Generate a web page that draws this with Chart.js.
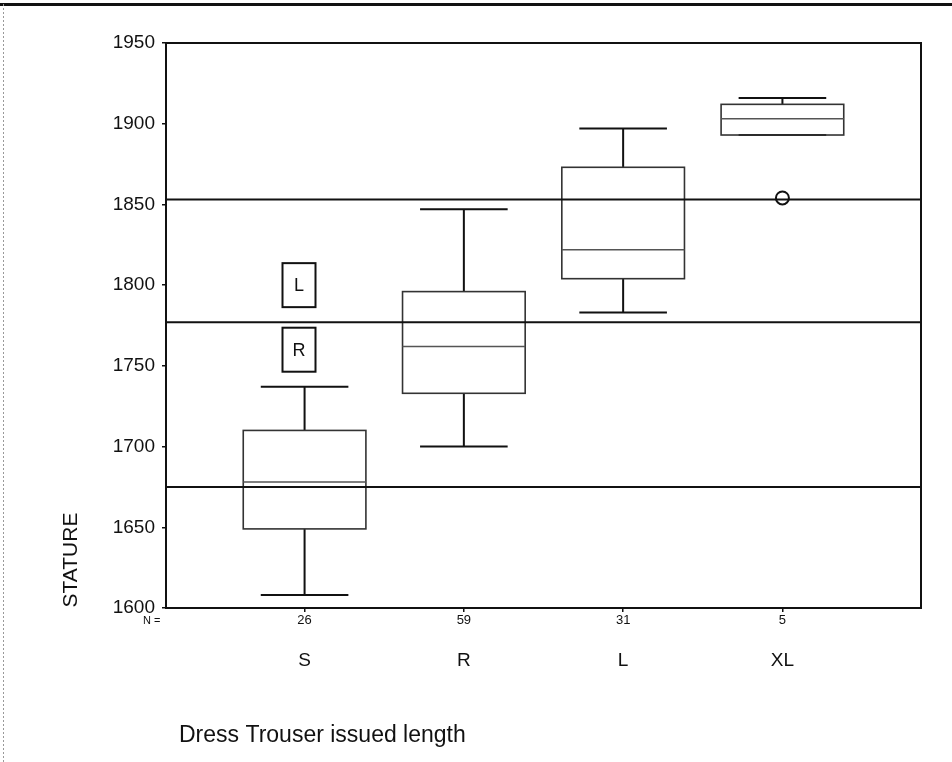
<!DOCTYPE html>
<html>
<head>
<meta charset="utf-8">
<script src="https://cdn.jsdelivr.net/npm/chart.js@4/dist/chart.umd.min.js"></script>
<style>
  html, body { margin: 0; padding: 0; background: #fff; }
  canvas { display: block; }
</style>
</head>
<body>
<canvas id="c" width="952" height="762"></canvas>
<script>
// ---- Data ----
const categories   = ['S', 'R', 'L', 'XL'];
const categoryPos  = [1, 2, 3, 4];
const nCounts      = [26, 59, 31, 5];
const whiskerLow   = [1608, 1700, 1783, 1893];
const q1           = [1649, 1733, 1804, 1893];
const median       = [1678, 1762, 1822, 1903];
const q3           = [1710, 1796, 1873, 1912];
const whiskerHigh  = [1737, 1847, 1897, 1916];
const outlierCat   = [4];
const outlierValue = [1854];
const refLines     = [1853, 1777, 1675];
const zoneLabels   = ['L', 'R'];
const zoneLabelY   = [1800, 1760];
const zoneLabelX   = 0.965;
const yTicks       = [1600, 1650, 1700, 1750, 1800, 1850, 1900, 1950];
const xMin = 0.13, xMax = 4.87;

const FONT = '"Liberation Sans", Arial, Helvetica, sans-serif';
const BOX_W = 0.77;   // box width in category units
const CAP_W = 0.55;   // whisker cap width in category units

const refDatasets = refLines.map(v => ({
  type: 'line',
  data: [{x: xMin, y: v}, {x: xMax, y: v}],
  borderColor: '#111',
  borderWidth: 2,
  pointRadius: 0,
  fill: false,
  order: 2
}));

const outlierDataset = {
  type: 'scatter',
  data: outlierCat.map((c, i) => ({x: c, y: outlierValue[i]})),
  pointStyle: 'circle',
  pointRadius: 6.5,
  backgroundColor: 'rgba(255,255,255,0)',
  borderColor: '#111',
  borderWidth: 2,
  order: 1
};

const boxPlugin = {
  id: 'boxes',
  beforeDraw(chart) {
    const ctx = chart.ctx;
    ctx.save();
    ctx.fillStyle = '#fff';
    ctx.fillRect(0, 0, chart.width, chart.height);
    // outer frame (top thick line, left dotted line)
    ctx.strokeStyle = '#111';
    ctx.lineWidth = 3;
    ctx.beginPath(); ctx.moveTo(0, 4.5); ctx.lineTo(chart.width, 4.5); ctx.stroke();
    ctx.strokeStyle = '#999';
    ctx.lineWidth = 1;
    ctx.setLineDash([2, 2]);
    ctx.beginPath(); ctx.moveTo(3.5, 4); ctx.lineTo(3.5, chart.height); ctx.stroke();
    ctx.setLineDash([]);
    ctx.restore();
  },
  beforeDatasetsDraw(chart) {
    const ctx = chart.ctx;
    const xs = chart.scales.x, ys = chart.scales.y;
    const unit = xs.getPixelForValue(2) - xs.getPixelForValue(1);
    ctx.save();
    categoryPos.forEach((c, i) => {
      const cx = xs.getPixelForValue(c);
      const bw = BOX_W * unit, cw = CAP_W * unit;
      const yq1 = ys.getPixelForValue(q1[i]);
      const yq3 = ys.getPixelForValue(q3[i]);
      const ymed = ys.getPixelForValue(median[i]);
      const ylo = ys.getPixelForValue(whiskerLow[i]);
      const yhi = ys.getPixelForValue(whiskerHigh[i]);
      // whiskers
      ctx.strokeStyle = '#111';
      ctx.lineWidth = 2;
      ctx.beginPath();
      ctx.moveTo(cx, yq3); ctx.lineTo(cx, yhi);
      ctx.moveTo(cx - cw / 2, yhi); ctx.lineTo(cx + cw / 2, yhi);
      ctx.moveTo(cx, yq1); ctx.lineTo(cx, ylo);
      ctx.moveTo(cx - cw / 2, ylo); ctx.lineTo(cx + cw / 2, ylo);
      ctx.stroke();
      // box
      ctx.strokeStyle = '#333';
      ctx.lineWidth = 1.6;
      ctx.strokeRect(cx - bw / 2, yq3, bw, yq1 - yq3);
      // median
      ctx.strokeStyle = '#555';
      ctx.lineWidth = 1.5;
      ctx.beginPath();
      ctx.moveTo(cx - bw / 2, ymed); ctx.lineTo(cx + bw / 2, ymed);
      ctx.stroke();
    });
    ctx.restore();
  },
  afterDatasetsDraw(chart) {
    const ctx = chart.ctx;
    const xs = chart.scales.x, ys = chart.scales.y;
    const a = chart.chartArea;
    ctx.save();
    // plot frame
    ctx.strokeStyle = '#111';
    ctx.lineWidth = 2;
    ctx.strokeRect(a.left, a.top, a.right - a.left, a.bottom - a.top);
    // zone label boxes
    ctx.font = '18px ' + FONT;
    ctx.textAlign = 'center';
    ctx.textBaseline = 'middle';
    ctx.fillStyle = '#111';
    zoneLabels.forEach((t, i) => {
      const px = xs.getPixelForValue(zoneLabelX);
      const py = ys.getPixelForValue(zoneLabelY[i]);
      ctx.lineWidth = 2;
      ctx.strokeRect(px - 16.5, py - 22, 33, 44);
      ctx.fillText(t, px, py + 1);
    });
    // category labels
    ctx.font = '19px ' + FONT;
    categoryPos.forEach((c, i) => {
      ctx.fillText(categories[i], xs.getPixelForValue(c), a.bottom + 53);
    });
    // N =
    ctx.font = '11px ' + FONT;
    ctx.textAlign = 'left';
    ctx.fillText('N =', 143, a.bottom + 13);
    // axis titles
    ctx.font = '23px ' + FONT;
    ctx.textAlign = 'left';
    ctx.fillText('Dress Trouser issued length', 179, 736);
    ctx.translate(71, 560);
    ctx.rotate(-Math.PI / 2);
    ctx.textAlign = 'center';
    ctx.font = '21px ' + FONT;
    ctx.fillText('STATURE', 0, 0);
    ctx.restore();
  }
};

new Chart(document.getElementById('c'), {
  type: 'scatter',
  data: { datasets: [...refDatasets, outlierDataset] },
  options: {
    responsive: false,
    animation: false,
    events: [],
    layout: { padding: { left: 0, top: 43, right: 31, bottom: 0 } },
    plugins: { legend: { display: false }, tooltip: { enabled: false } },
    scales: {
      x: {
        type: 'linear',
        min: xMin,
        max: xMax,
        afterBuildTicks: s => { s.ticks = categoryPos.map(v => ({ value: v })); },
        afterFit: s => { s.height = 154; },
        ticks: {
          callback: v => { const i = categoryPos.indexOf(v); return i >= 0 ? String(nCounts[i]) : ''; },
          font: { family: FONT, size: 13 },
          color: '#111',
          padding: 1,
          maxRotation: 0,
          autoSkip: false
        },
        grid: { drawOnChartArea: false, tickLength: 4, color: '#111', lineWidth: 1.5 },
        border: { display: true, color: '#111', width: 2 }
      },
      y: {
        type: 'linear',
        min: 1600,
        max: 1950,
        afterBuildTicks: s => { s.ticks = yTicks.map(v => ({ value: v })); },
        afterFit: s => { s.width = 166; },
        ticks: {
          font: { family: FONT, size: 19 },
          color: '#111',
          padding: 7,
          callback: v => String(v)
        },
        grid: { drawOnChartArea: false, tickLength: 4, color: '#111', lineWidth: 1.5 },
        border: { display: true, color: '#111', width: 2 }
      }
    }
  },
  plugins: [boxPlugin]
});
</script>
</body>
</html>
